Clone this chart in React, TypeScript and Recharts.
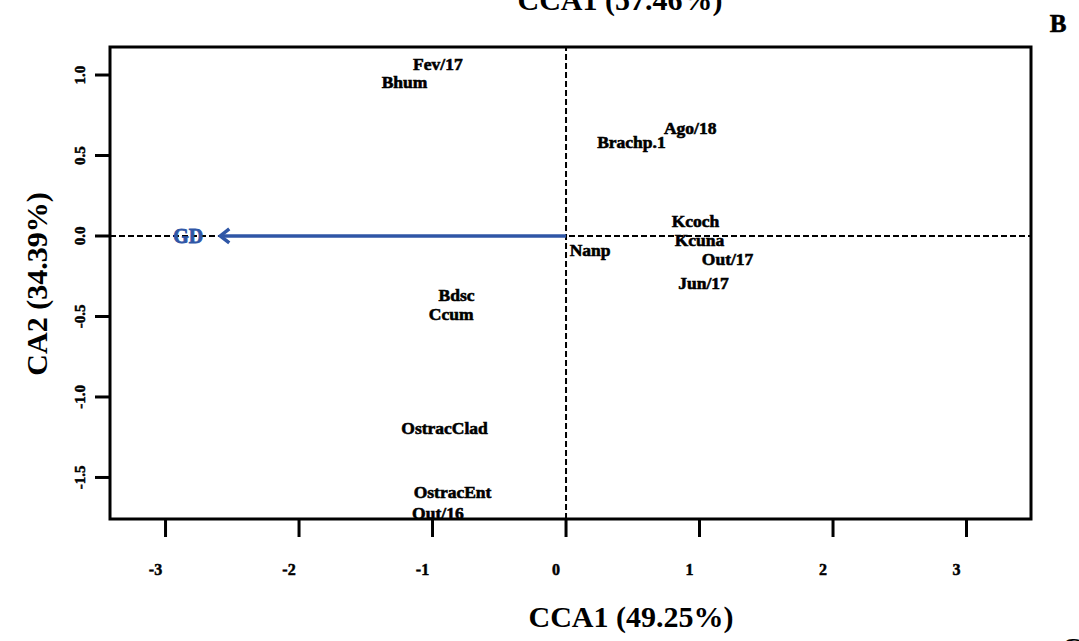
import React from "react";
import { ScatterChart, Scatter, XAxis, YAxis, ReferenceLine, ReferenceArea } from "recharts";

// site / species labels from the CCA biplot
const labelNames = ["Fev/17", "Bhum", "Ago/18", "Brachp.1", "Kcoch", "Kcuna", "Out/17", "Jun/17", "Nanp", "Bdsc", "Ccum", "OstracClad", "OstracEnt", "Out/16"];
const labelX = [-0.96, -1.21, 0.93, 0.49, 0.97, 1.0, 1.21, 1.03, 0.18, -0.82, -0.86, -0.91, -0.85, -0.96];
const labelY = [1.07, 0.956, 0.67, 0.584, 0.093, -0.025, -0.143, -0.29, -0.087, -0.366, -0.484, -1.19, -1.59, -1.72];

// environmental vector
const vectorName = "GD";
const vectorX = -2.59;
const vectorY = 0;
const vectorLabelX = -2.83;

const xTicks = [-3, -2, -1, 0, 1, 2, 3];
const yTicks = [-1.5, -1.0, -0.5, 0.0, 0.5, 1.0];
const xDomain: [number, number] = [-3.416, 3.483];
const yDomain: [number, number] = [-1.758, 1.174];

const labelData = labelNames.map((name, i) => ({ name, x: labelX[i], y: labelY[i] }));
const arrowData = [
  { x: 0, y: 0, tip: false },
  { x: vectorX, y: vectorY, tip: true },
];
const vectorLabelData = [{ name: vectorName, x: vectorLabelX, y: vectorY }];

const FONT = '"Liberation Serif", "DejaVu Serif", serif';
const BLUE = "#2f56a6";

const XTick = (props: any) => (
  <text x={props.x - 10} y={575} textAnchor="middle" fontFamily={FONT} fontWeight="bold" fontSize={16} fill="#000" stroke="#000" strokeWidth={0.5}>
    {props.payload.value}
  </text>
);

const YTick = (props: any) => (
  <text transform={`translate(85, ${props.y}) rotate(-90)`} textAnchor="middle" fontFamily={FONT} fontWeight="bold" fontSize={15} fill="#000" stroke="#000" strokeWidth={0.5}>
    {Number(props.payload.value).toFixed(1)}
  </text>
);

const LabelShape = (props: any) => (
  <text x={props.cx} y={props.cy} textAnchor="middle" dominantBaseline="central" fontFamily={FONT} fontWeight="bold" fontSize={17.5} fill="#000" stroke="#000" strokeWidth={0.6}>
    {props.payload.name}
  </text>
);

const ArrowShape = (props: any) => {
  if (!props.payload.tip) return <g />;
  const { cx, cy } = props;
  return <polyline points={`${cx + 9},${cy - 7} ${cx},${cy} ${cx + 9},${cy + 7}`} fill="none" stroke={BLUE} strokeWidth={3.5} />;
};

const VectorLabel = (props: any) => (
  <text x={props.cx} y={props.cy} textAnchor="middle" dominantBaseline="central" fontFamily={FONT} fontWeight="bold" fontSize={20} fill={BLUE} stroke={BLUE} strokeWidth={0.8}>
    {props.payload.name}
  </text>
);

export default function App() {
  return (
    <div style={{ position: "absolute", left: 0, top: 0, background: "#fff" }}>
      <ScatterChart width={1079} height={641} margin={{ top: 47, right: 48, left: 0, bottom: 0 }}>
        <XAxis type="number" dataKey="x" domain={xDomain} ticks={xTicks} allowDataOverflow axisLine={false} tickSize={18} tickLine={{ stroke: "#000", strokeWidth: 3 }} tick={<XTick />} height={122} />
        <YAxis type="number" dataKey="y" domain={yDomain} ticks={yTicks} allowDataOverflow axisLine={false} tickSize={15} tickLine={{ stroke: "#000", strokeWidth: 3 }} tick={<YTick />} width={110} />
        <ReferenceLine y={0} stroke="#000" strokeWidth={2} strokeDasharray="6 3" />
        <ReferenceLine x={0} stroke="#000" strokeWidth={2} strokeDasharray="6 3" />
        <Scatter data={arrowData} line={{ stroke: BLUE, strokeWidth: 3.5 }} lineType="joint" shape={<ArrowShape />} isAnimationActive={false} />
        <Scatter data={vectorLabelData} shape={<VectorLabel />} isAnimationActive={false} />
        <Scatter data={labelData} shape={<LabelShape />} isAnimationActive={false} />
        <ReferenceArea x1={xDomain[0]} x2={xDomain[1]} y1={yDomain[0]} y2={yDomain[1]} fill="none" fillOpacity={0} stroke="#000" strokeWidth={3} ifOverflow="visible" />
        <text x={620} y={10} textAnchor="middle" fontFamily={FONT} fontWeight="bold" fontSize={30} fill="#000">CCA1 (57.46%)</text>
        <text x={1058} y={32} textAnchor="middle" fontFamily={FONT} fontWeight="bold" fontSize={25} fill="#000" stroke="#000" strokeWidth={0.6}>B</text>
        <text x={1072} y={658} textAnchor="middle" fontFamily={FONT} fontWeight="bold" fontSize={30} fill="#000">C</text>
        <text x={631} y={627} textAnchor="middle" fontFamily={FONT} fontWeight="bold" fontSize={30} fill="#000">CCA1 (49.25%)</text>
        <text transform="translate(47, 284) rotate(-90)" textAnchor="middle" fontFamily={FONT} fontWeight="bold" fontSize={30} fill="#000">CA2 (34.39%)</text>
      </ScatterChart>
    </div>
  );
}
